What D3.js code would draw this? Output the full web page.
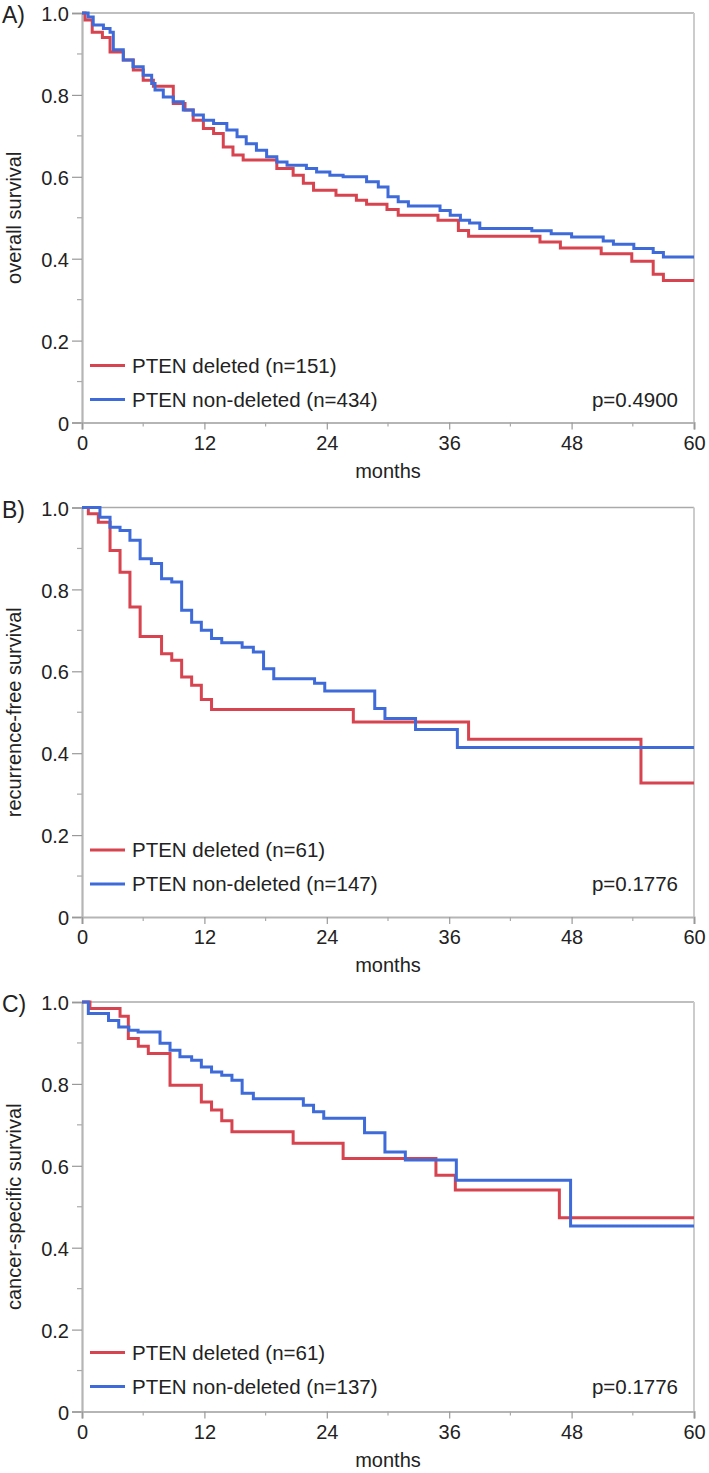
<!DOCTYPE html>
<meta charset="utf-8">

<!-- Load d3.js -->
<script src="https://d3js.org/d3.v7.min.js"></script>

<style>
body { margin: 0; background: #fff; }
text { font-family: "Liberation Sans", Arial, sans-serif; fill: #222; }
</style>

<div id="my_dataviz"></div>

<script>
// x / y ticks
var monthTicks = [0, 12, 24, 36, 48, 60];
var monthMinor = [6, 18, 30, 42, 54];
var survTicks = [0, 0.2, 0.4, 0.6, 0.8, 1.0];
var survMinor = [0.1, 0.3, 0.5, 0.7, 0.9];

// step points: [month, survival from that month on]
var osDeleted = [[0,1],[0.3,0.983],[1,0.953],[2,0.94],[2.75,0.905],[4.05,0.885],[5.03,0.861],[6,0.836],[7,0.821],
  [8.95,0.779],[10.1,0.763],[10.9,0.738],[11.9,0.718],[12.9,0.706],[13.85,0.673],[14.8,0.653],[15.8,0.641],
  [19.1,0.62],[20.7,0.604],[21.7,0.584],[22.7,0.567],[24.9,0.555],[26.9,0.543],[27.9,0.533],[29.9,0.52],
  [31,0.506],[34.9,0.494],[36.9,0.469],[37.9,0.455],[44.9,0.441],[46.9,0.426],[50.9,0.412],[53.9,0.394],
  [56,0.362],[57,0.347]];
var osNonDeleted = [[0,1],[0.6,0.99],[1.1,0.971],[2.1,0.962],[2.75,0.953],[3.07,0.91],[4.05,0.885],[5,0.869],
  [6,0.848],[6.83,0.828],[7.16,0.812],[7.97,0.795],[8.95,0.783],[9.93,0.763],[10.9,0.751],[11.9,0.738],
  [12.9,0.73],[14.2,0.714],[15.2,0.698],[16.1,0.681],[17.1,0.665],[18.1,0.649],[19.1,0.636],[20.1,0.628],
  [22,0.62],[23,0.612],[24.3,0.604],[25.6,0.6],[27.9,0.588],[29.05,0.575],[30,0.551],[31,0.539],[32,0.529],
  [35.1,0.518],[36.1,0.506],[37.1,0.494],[38,0.487],[39,0.474],[44.1,0.468],[46,0.461],[48,0.453],
  [51.1,0.443],[52.1,0.435],[54.1,0.425],[56,0.415],[57,0.404]];

var rfsDeleted = [[0,1],[0.62,0.985],[1.6,0.964],[2.75,0.895],[3.73,0.842],[4.7,0.757],[5.7,0.685],[7.8,0.643],
  [8.8,0.627],[9.77,0.586],[10.75,0.566],[11.7,0.531],[12.7,0.507],[26.6,0.476],[37.9,0.434],[54.8,0.327]];
var rfsNonDeleted = [[0,1],[1.76,0.976],[2.75,0.952],[3.73,0.944],[4.7,0.92],[5.7,0.875],[6.8,0.863],[7.8,0.826],
  [8.8,0.818],[9.77,0.749],[10.75,0.72],[11.7,0.7],[12.7,0.68],[13.7,0.67],[15.7,0.659],[16.8,0.647],
  [17.8,0.606],[18.8,0.582],[22.8,0.571],[23.8,0.552],[28.7,0.509],[29.7,0.485],[32.7,0.458],[36.8,0.414]];

var cssDeleted = [[0,1],[0.78,0.984],[3.73,0.965],[4.54,0.911],[5.52,0.892],[6.5,0.874],[8.63,0.797],[11.7,0.756],
  [12.7,0.736],[13.7,0.71],[14.7,0.683],[20.7,0.655],[25.6,0.618],[34.7,0.577],[36.6,0.541],[46.8,0.473]];
var cssNonDeleted = [[0,1],[0.62,0.972],[2.6,0.955],[3.6,0.939],[4.6,0.931],[5.5,0.927],[7.65,0.899],[8.63,0.882],
  [9.6,0.866],[10.75,0.858],[11.7,0.841],[12.7,0.829],[13.7,0.821],[14.7,0.809],[15.7,0.777],[16.8,0.764],
  [21.7,0.748],[22.7,0.732],[23.7,0.716],[27.7,0.681],[29.7,0.634],[31.7,0.614],[36.7,0.565],[47.9,0.453]];

var panelLabels = ["A)", "B)", "C)"];
var yTitles = ["overall survival", "recurrence-free survival", "cancer-specific survival"];
var legendDeleted = ["PTEN deleted (n=151)", "PTEN deleted (n=61)", "PTEN deleted (n=61)"];
var legendNonDeleted = ["PTEN non-deleted (n=434)", "PTEN non-deleted (n=147)", "PTEN non-deleted (n=137)"];
var pValues = ["p=0.4900", "p=0.1776", "p=0.1776"];

var deletedSeries = [osDeleted, rfsDeleted, cssDeleted];
var nonDeletedSeries = [osNonDeleted, rfsNonDeleted, cssNonDeleted];

// layout
var width = 709, height = 1473;
var left = 82, right = 694;
var tops = [13, 507.5, 1002];
var plotH = 409.5;
var legendOff = [[57, 23], [67, 33], [59, 25]];   // legend line heights above the x axis

var red = "#d7434f", blue = "#3e6bd9";

var svg = d3.select("#my_dataviz")
  .append("svg")
  .attr("width", width)
  .attr("height", height);

var x = d3.scaleLinear()
  .domain([0, 60])
  .range([left, right]);

var yFmt = function(d) { return d === 0 ? "0" : d3.format(".1f")(d); };

tops.forEach(function(top, i) {
  var bottom = top + plotH;
  var y = d3.scaleLinear()
    .domain([0, 1])
    .range([bottom, top]);

  var g = svg.append("g");

  // frame: top and right
  g.append("line")
    .attr("x1", left).attr("x2", right)
    .attr("y1", top).attr("y2", top)
    .attr("stroke", "#aaa").attr("stroke-width", 1.5);
  g.append("line")
    .attr("x1", right).attr("x2", right)
    .attr("y1", top).attr("y2", bottom)
    .attr("stroke", "#ccc").attr("stroke-width", 2);

  // y axis
  var yAxis = g.append("g")
    .attr("transform", "translate(" + left + ",0)")
    .call(d3.axisLeft(y).tickValues(survTicks).tickFormat(yFmt).tickSize(10).tickPadding(3));
  yAxis.select(".domain").attr("stroke", "#b5b5b5").attr("stroke-width", 2.2);
  yAxis.selectAll(".tick line").attr("stroke", "#999").attr("stroke-width", 1.2);
  yAxis.selectAll(".tick text")
    .attr("font-size", 20).attr("fill", "#222").attr("font-family", "Liberation Sans, Arial, sans-serif")
    .attr("dy", "0.38em");

  g.selectAll(".yminor")
    .data(survMinor)
    .enter().append("line")
    .attr("x1", left - 5).attr("x2", left)
    .attr("y1", function(d) { return y(d); })
    .attr("y2", function(d) { return y(d); })
    .attr("stroke", "#aaa").attr("stroke-width", 1.2);

  // x axis
  var xAxis = g.append("g")
    .attr("transform", "translate(0," + bottom + ")")
    .call(d3.axisBottom(x).tickValues(monthTicks).tickSize(7).tickPadding(6));
  xAxis.select(".domain").attr("stroke", "#b5b5b5").attr("stroke-width", 2.2);
  xAxis.selectAll(".tick line").attr("stroke", "#999").attr("stroke-width", 1.2);
  xAxis.selectAll(".tick text")
    .attr("font-size", 20).attr("fill", "#222").attr("font-family", "Liberation Sans, Arial, sans-serif");

  g.selectAll(".xminor")
    .data(monthMinor)
    .enter().append("line")
    .attr("x1", function(d) { return x(d); })
    .attr("x2", function(d) { return x(d); })
    .attr("y1", bottom).attr("y2", bottom + 4)
    .attr("stroke", "#aaa").attr("stroke-width", 1.2);

  // axis titles
  g.append("text")
    .attr("x", (left + right) / 2)
    .attr("y", bottom + 55)
    .attr("text-anchor", "middle")
    .attr("font-size", 20)
    .text("months");

  g.append("text")
    .attr("transform", "translate(21," + ((top + bottom) / 2) + ") rotate(-90)")
    .attr("text-anchor", "middle")
    .attr("font-size", 20)
    .text(yTitles[i]);

  // panel label
  g.append("text")
    .attr("x", 2)
    .attr("y", top + 10)
    .attr("font-size", 23)
    .text(panelLabels[i]);

  // survival curves
  var line = d3.line()
    .curve(d3.curveStepAfter)
    .x(function(d) { return x(d[0]); })
    .y(function(d) { return y(d[1]); });

  [[deletedSeries[i], red], [nonDeletedSeries[i], blue]].forEach(function(s) {
    var pts = s[0].concat([[60, s[0][s[0].length - 1][1]]]);
    g.append("path")
      .datum(pts)
      .attr("fill", "none")
      .attr("stroke", s[1])
      .attr("stroke-width", 3)
      .attr("d", line);
  });

  // legend
  var leg = [[legendDeleted[i], red, legendOff[i][0]], [legendNonDeleted[i], blue, legendOff[i][1]]];
  leg.forEach(function(l) {
    g.append("line")
      .attr("x1", 90).attr("x2", 125)
      .attr("y1", bottom - l[2]).attr("y2", bottom - l[2])
      .attr("stroke", l[1]).attr("stroke-width", 3);
    g.append("text")
      .attr("x", 132)
      .attr("y", bottom - l[2])
      .attr("dy", "0.36em")
      .attr("font-size", 20.5)
      .text(l[0]);
  });

  g.append("text")
    .attr("x", 678)
    .attr("y", bottom - legendOff[i][1])
    .attr("dy", "0.36em")
    .attr("text-anchor", "end")
    .attr("font-size", 20.5)
    .text(pValues[i]);
});
</script>
